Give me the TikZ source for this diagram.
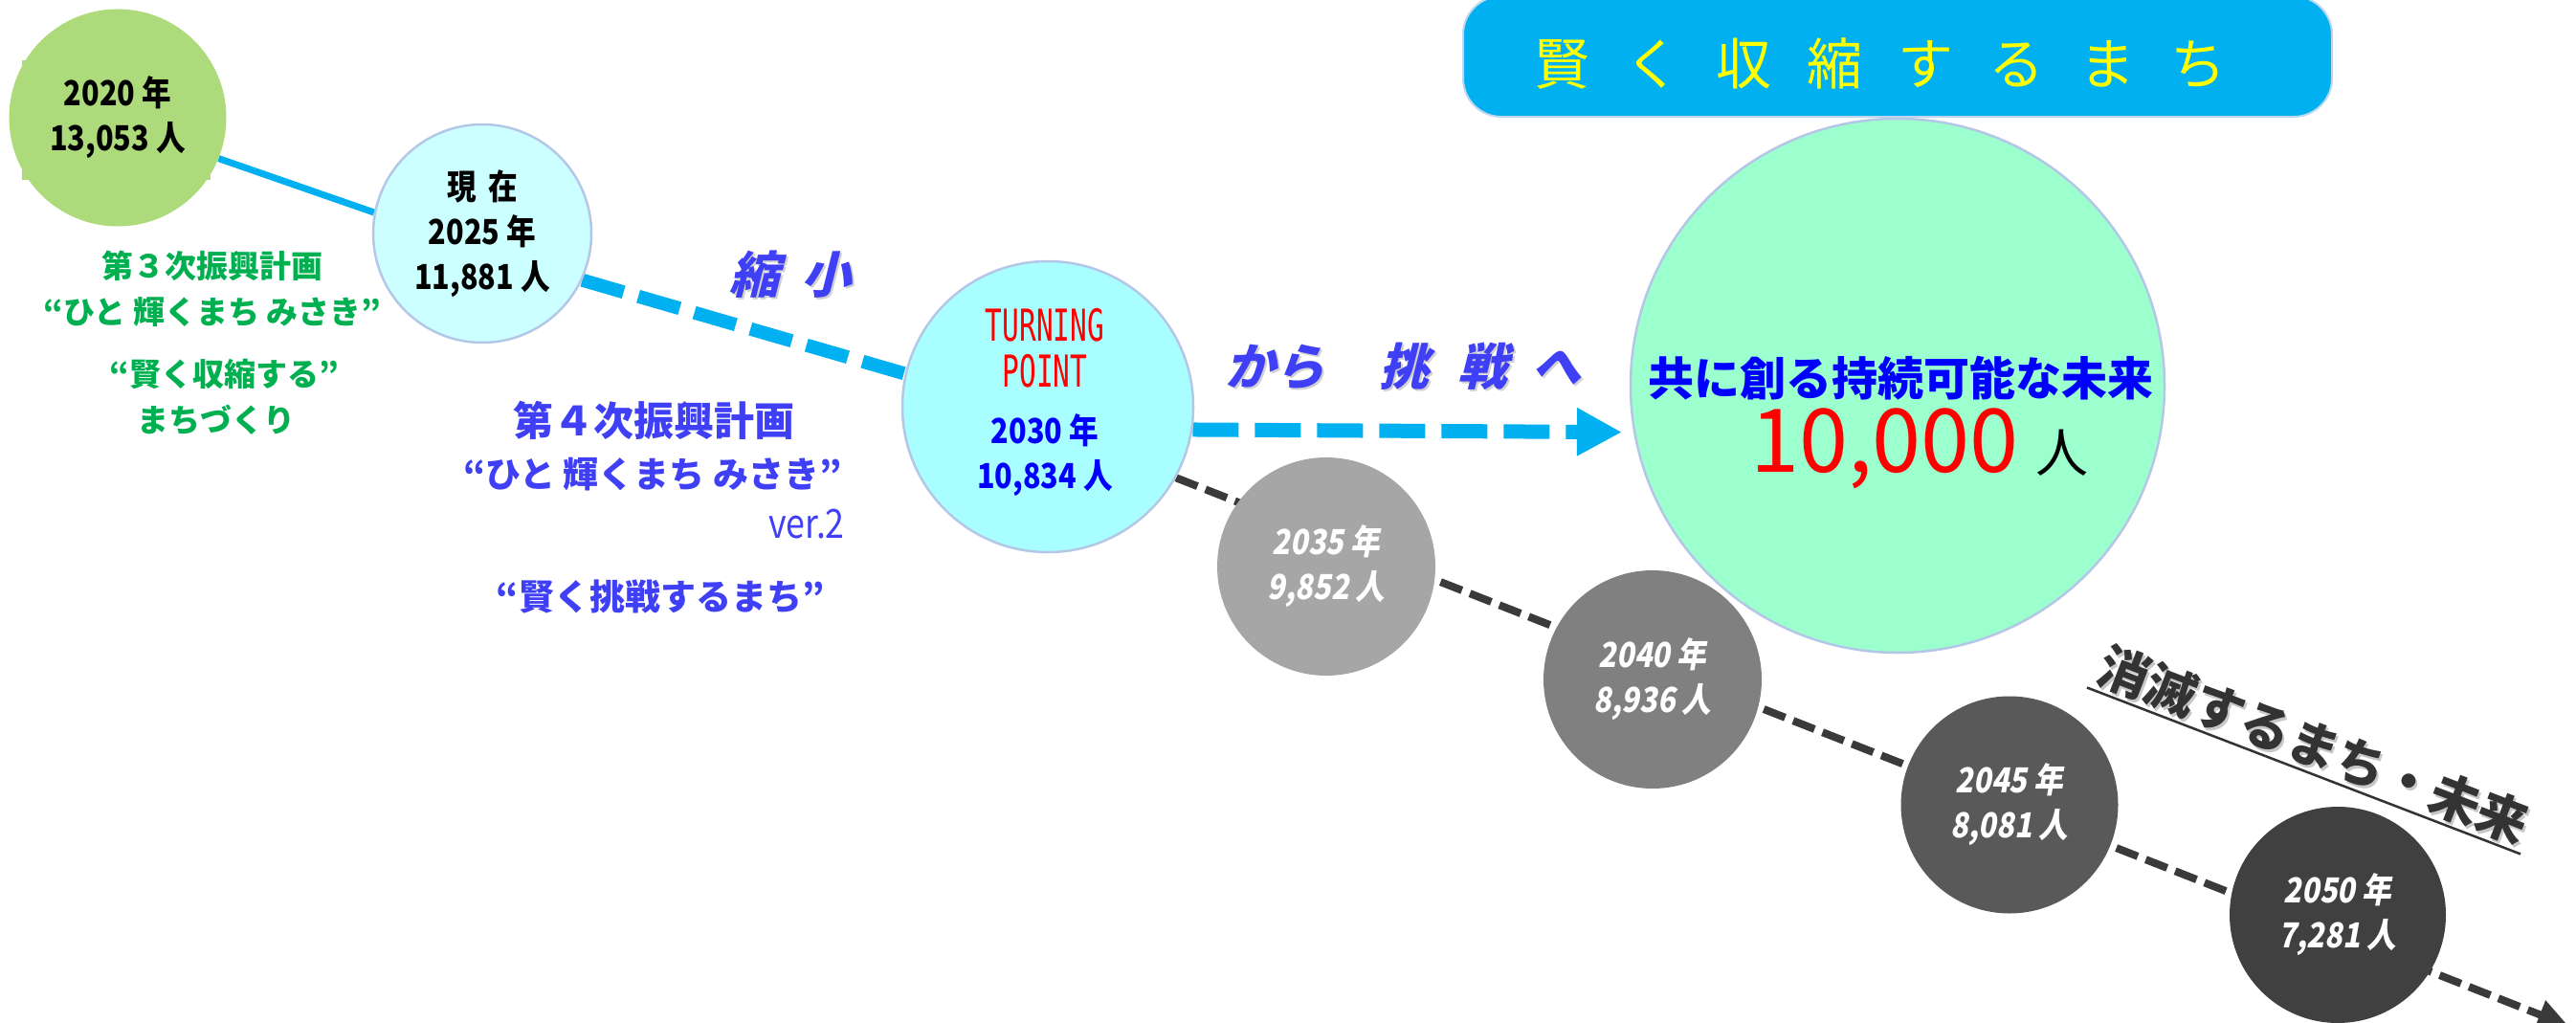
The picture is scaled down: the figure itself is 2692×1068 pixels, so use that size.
\documentclass[tikz,border=0pt]{standalone}
\usepackage{fontspec}
\setmainfont{Noto Sans CJK JP}
\newfontfamily\cond{Noto Sans CJK JP}[FakeStretch=0.85]
\newfontfamily\condit{Noto Sans CJK JP}[FakeStretch=0.85,FakeSlant=0.18]
\newfontfamily\slfont{Noto Sans CJK JP}[FakeSlant=0.25]
\newfontfamily\monocond{DejaVu Sans Mono}[FakeStretch=0.64]
\usetikzlibrary{arrows.meta}
\pgfdeclarelayer{bg}
\pgfsetlayers{bg,main}
\definecolor{cyanline}{HTML}{00B0F0}
\definecolor{gtwenty}{HTML}{ADDA7A}
\definecolor{palecyan}{HTML}{CCFFFF}
\definecolor{aqua}{HTML}{A9FFFF}
\definecolor{mint}{HTML}{9BFFCE}
\definecolor{cborder}{HTML}{B4C7E7}
\definecolor{lborder}{HTML}{BDD7EE}
\definecolor{gA}{HTML}{A6A6A6}
\definecolor{gB}{HTML}{808080}
\definecolor{gC}{HTML}{595959}
\definecolor{gD}{HTML}{404040}
\definecolor{darkline}{HTML}{3A3A3A}
\definecolor{plangreen}{HTML}{00B050}
\definecolor{lblue}{HTML}{3F3FF5}
\definecolor{dgray}{HTML}{333333}
\definecolor{ttlyellow}{HTML}{FFFF00}
\begin{document}
\begin{tikzpicture}[x=1pt,y=-1pt,
  circ/.style={circle, inner sep=0pt, minimum size=#1, align=center},
  yeartxt/.style={font=\cond\bfseries\fontsize{36}{47}\selectfont},
  grayyear/.style={text=white, font=\condit\bfseries\fontsize{36}{47}\selectfont},
  greentxt/.style={text=plangreen, font=\bfseries\fontsize{33}{33}\selectfont, inner sep=0pt},
  bluetxt/.style={text=lblue, font=\bfseries\fontsize{37}{37}\selectfont, inner sep=0pt},
  slanttxt/.style={font=\slfont\bfseries\fontsize{52}{52}\selectfont, inner sep=0pt},
]
\useasboundingbox (0,0) rectangle (2692,1068);

% ---- title ----
\node[rounded corners=40pt, fill=cyanline, draw=lborder, line width=2pt,
      minimum width=908pt, minimum height=126pt, inner sep=0pt] (title) at (1983,59) {};
\node[text=ttlyellow, font=\fontsize{58}{58}\selectfont, inner sep=0pt] (titletext) at (1965,66)
  {賢\hspace{37pt}く\hspace{37pt}収\hspace{37pt}縮\hspace{37pt}す\hspace{37pt}る\hspace{37pt}ま\hspace{37pt}ち};

% ---- circles ----
\fill[gtwenty] (23,63) rectangle (220,188);
\node[circ=227pt, fill=gtwenty, yeartxt] (c2020) at (123,123) {2020 年\\13,053 人};
\node[circ=228pt, fill=palecyan, draw=cborder, line width=2.5pt, yeartxt] (c2025) at (504,244) {現\hspace{12pt}在\\2025 年\\11,881 人};
\node[circ=304pt, fill=aqua, draw=cborder, line width=2.5pt] (c2030) at (1095,425) {};
\node[text=red, font=\monocond\fontsize{46}{48}\selectfont, align=center, inner sep=0pt] (tp) at (1092,364) {TURNING\\POINT};
\node[text=blue, yeartxt, align=center, inner sep=0pt] (y2030) at (1092,476) {2030 年\\10,834 人};
\node[circ=558pt, fill=mint, draw=cborder, line width=2.5pt] (c10000) at (1983,403) {};
\node[text=blue, font=\bfseries\fontsize{48}{48}\selectfont, inner sep=0pt] (goal) at (1986,395) {共に創る持続可能な未来};
\node[anchor=base, inner sep=0pt] (pop) at (2006,493)
  {\fontsize{92}{92}\selectfont\color{red}10,000\hspace{18pt}\fontsize{55}{55}\selectfont\color{black}人};

\node[circ=228pt, fill=gA, grayyear] (c2035) at (1386,592) {2035 年\\9,852 人};
\node[circ=228pt, fill=gB, grayyear] (c2040) at (1727,710) {2040 年\\8,936 人};
\node[circ=227pt, fill=gC, grayyear] (c2045) at (2100,841) {2045 年\\8,081 人};
\node[circ=226pt, fill=gD, grayyear] (c2050) at (2443,956) {2050 年\\7,281 人};

% ---- green plan texts ----
\node[greentxt] (p3a) at (222,278) {第３次振興計画};
\node[greentxt] (p3b) at (222,326) {“ひと 輝くまち みさき”};
\node[greentxt] (p3c) at (234,391) {“賢く収縮する”};
\node[greentxt] (p3d) at (226,439) {まちづくり};

% ---- blue plan texts ----
\node[bluetxt, font=\bfseries\fontsize{42}{42}\selectfont] (p4a) at (683,439) {第４次振興計画};
\node[bluetxt] (p4b) at (682,496) {“ひと 輝くまち みさき”};
\node[bluetxt, anchor=east, font=\cond\fontsize{42}{42}\selectfont] (p4v) at (883,548) {ver.2};
\node[bluetxt] (p4c) at (690,623) {“賢く挑戦するまち”};

% ---- slanted labels with soft shadow ----
\node[slanttxt, text=black!18] (shrinkS) at (828,289) {縮\hspace{24pt}小};
\node[slanttxt, text=lblue] (shrink) at (826,287) {縮\hspace{24pt}小};
\node[slanttxt, text=black!18, anchor=west] (challS) at (1282,385) {から\hspace{57pt}挑\hspace{30pt}戦\hspace{25pt}へ};
\node[slanttxt, text=lblue, anchor=west] (chall) at (1280,383) {から\hspace{57pt}挑\hspace{30pt}戦\hspace{25pt}へ};

\node[rotate=-21, text=black!22, font=\bfseries\fontsize{53}{53}\selectfont, inner sep=4pt] (vanishS) at (2420,781) {消滅するまち・未来};
\node[rotate=-21, text=dgray, font=\bfseries\fontsize{53}{53}\selectfont, inner sep=4pt] (vanish) at (2418,778) {消滅するまち・未来};
\draw[dgray, line width=2.5pt] (vanish.south west) -- (vanish.south east);

% ---- connectors ----
\begin{pgfonlayer}{bg}
\draw[cyanline, line width=7pt] (c2020.-22) -- (c2025.169);
\draw[cyanline, line width=14pt, dash pattern=on 45pt off 16pt] (c2025.-25) -- (c2030.167);
\draw[cyanline, line width=15pt, dash pattern=on 48pt off 17pt,
      -{Triangle[length=47pt,width=47pt]}, shorten >=12pt] (c2030.-9) -- (c10000.190);
\coordinate (dend) at (2684,1072);
\draw[darkline, line width=8pt, dash pattern=on 24pt off 9pt,
      -{Triangle[length=32pt,width=30pt]}] (c2030.-29) -- (dend);
\end{pgfonlayer}
\end{tikzpicture}
\end{document}
